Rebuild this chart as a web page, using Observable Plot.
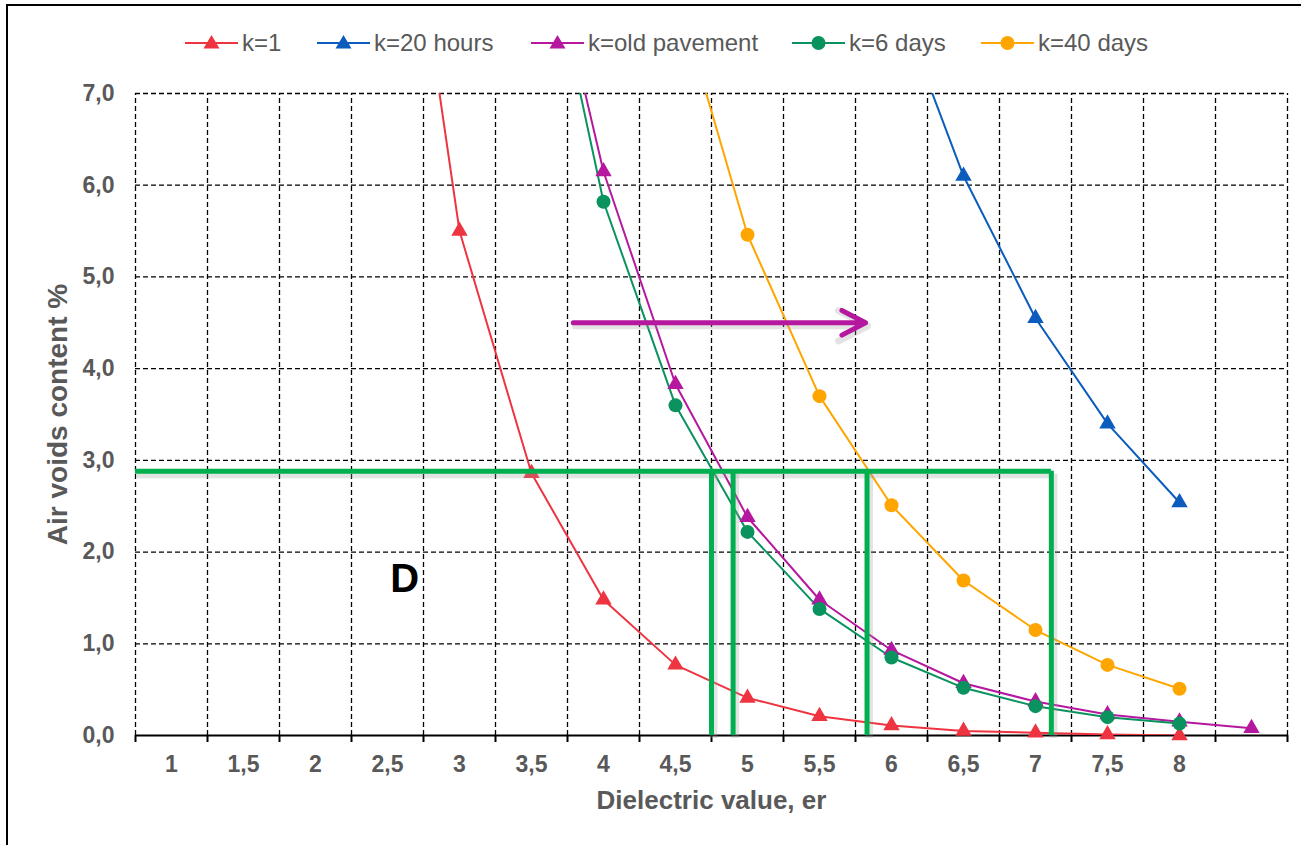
<!DOCTYPE html>
<html>
<head>
<meta charset="utf-8">
<script src="https://cdn.jsdelivr.net/npm/d3@7"></script>
<script src="https://cdn.jsdelivr.net/npm/@observablehq/plot@0.6"></script>
<style>
  html, body { margin: 0; padding: 0; background: #fff; overflow: hidden; }
  body { font-family: "Liberation Sans", Arial, sans-serif; width: 1301px; height: 845px; position: relative; }
  #frame { position: absolute; left: 6px; top: 4px; width: 1400px; height: 1000px; border: 2px solid #000; pointer-events: none; }
  #legend { position: relative; height: 75px; }
  .item { position: absolute; top: 30px; height: 26px; display: flex; align-items: center; font-size: 24px; color: #595959; white-space: nowrap; }
  .item svg { margin-right: 4px; }
  #chart svg { display: block; }
</style>
</head>
<body>
<div id="frame"></div>
<div id="legend"></div>
<div id="chart"></div>
<script>
// ---- Data ----
const erValues = [1, 1.5, 2, 2.5, 3, 3.5, 4, 4.5, 5, 5.5, 6, 6.5, 7, 7.5, 8, 8.5];
const xTickLabels = ["1", "1,5", "2", "2,5", "3", "3,5", "4", "4,5", "5", "5,5", "6", "6,5", "7", "7,5", "8", ""];
const yTicks = [0, 1, 2, 3, 4, 5, 6, 7];
const yTickLabels = ["0,0", "1,0", "2,0", "3,0", "4,0", "5,0", "6,0", "7,0"];

const seriesNames = ["k=1", "k=20 hours", "k=old pavement", "k=6 days", "k=40 days"];
const k1          = [null, null, null, 10.9, 5.50, 2.86, 1.48, 0.77, 0.41, 0.21, 0.11, 0.05, 0.03, 0.01, 0.00, null];
const k20hours    = [null, null, null, null, null, null, null, null, null, null, 8.18, 6.10, 4.55, 3.40, 2.54, null];
const kOldPav     = [null, null, null, null, null, 9.50, 6.15, 3.83, 2.38, 1.48, 0.93, 0.57, 0.37, 0.23, 0.15, 0.08];
const k6days      = [null, null, null, null, null, 9.48, 5.82, 3.60, 2.22, 1.38, 0.85, 0.52, 0.32, 0.20, 0.13, null];
const k40days     = [null, null, null, null, null, null, null, 8.15, 5.46, 3.70, 2.51, 1.69, 1.15, 0.77, 0.51, null];
const seriesValues = [k1, k20hours, kOldPav, k6days, k40days];
const seriesColors = ["#ee3441", "#0b5cbd", "#b5189f", "#0a925f", "#ffa500"];
const seriesSymbols = ["triangle", "triangle", "triangle", "circle", "circle"];

// annotations (values in chart units)
const guideLevel = [2.88];
const guideStart = [0.75];
const guideEnd = [7.11];
const guideVerticals = [4.75, 4.90, 5.83, 7.11];
const arrowFrom = [3.79];
const arrowTo = [5.82];
const arrowLevel = [4.50];
const noteText = ["D"];
const noteX = [2.62];
const noteY = [1.70];

// ---- Derived ----
const boundaries = d3.range(0, erValues.length + 1).map(i => erValues[0] - 0.25 + 0.5 * i);
const rows = [];
seriesNames.forEach((name, s) => {
  erValues.forEach((er, i) => rows.push({series: name, er, value: seriesValues[s][i]}));
});

// ---- Legend ----
const legend = document.getElementById("legend");
const legendLeft = [185, 317, 531, 792, 981];
seriesNames.forEach((name, s) => {
  const div = document.createElement("div");
  div.className = "item";
  div.style.left = legendLeft[s] + "px";
  const c = seriesColors[s];
  const marker = seriesSymbols[s] === "circle"
    ? `<circle cx="26.5" cy="13" r="7" fill="${c}"/>`
    : `<path d="M26.5,5 L34.5,18.5 L18.5,18.5 Z" fill="${c}"/>`;
  div.innerHTML = `<svg width="53" height="26"><line x1="0" x2="53" y1="13" y2="13" stroke="${c}" stroke-width="2"/>${marker}</svg><span>${name}</span>`;
  legend.appendChild(div);
});

// ---- Chart ----
const gray = "#595959";
const marks = [
  Plot.ruleY(yTicks.filter(d => d > 0), {stroke: "#000", strokeWidth: 1.3, strokeDasharray: "5,3"}),
  Plot.ruleX(boundaries, {y1: 0, y2: 7, stroke: "#000", strokeWidth: 1.3, strokeDasharray: "5,3"}),
  Plot.ruleX(boundaries, {y1: 0, y2: 0, insetBottom: -7, stroke: "#000", strokeWidth: 2}),
  Plot.ruleY([0], {stroke: "#000", strokeWidth: 2}),
];

seriesNames.forEach((name, s) => {
  const data = rows.filter(r => r.series === name);
  marks.push(Plot.line(data, {x: "er", y: "value", stroke: seriesColors[s], strokeWidth: 2, clip: true}));
});
seriesNames.forEach((name, s) => {
  const data = rows.filter(r => r.series === name && r.value != null && r.value <= 7);
  marks.push(Plot.dot(data, {
    x: "er", y: "value", fill: seriesColors[s], stroke: "none",
    symbol: seriesSymbols[s], r: seriesSymbols[s] === "circle" ? 7 : 6.1
  }));
});

// annotation shadows
const shadow = {stroke: "#9a9a9a", strokeOpacity: 0.28, strokeWidth: 8, dx: 2, dy: 3};
marks.push(
  Plot.ruleY(guideLevel, {x1: guideStart[0], x2: guideEnd[0], ...shadow}),
  Plot.ruleX(guideVerticals, {y1: 0, y2: guideLevel[0], ...shadow}),
  Plot.arrow(arrowLevel, {x1: () => arrowFrom[0], x2: () => arrowTo[0], y1: d => d, y2: d => d,
    stroke: "#9a9a9a", strokeOpacity: 0.28, strokeWidth: 7, dx: 2, dy: 3, headLength: 7, headAngle: 55})
);
// annotation lines
marks.push(
  Plot.ruleY(guideLevel, {x1: guideStart[0], x2: guideEnd[0], stroke: "#00b050", strokeWidth: 5}),
  Plot.ruleX(guideVerticals, {y1: 0, y2: guideLevel[0], stroke: "#00b050", strokeWidth: 5}),
  Plot.arrow(arrowLevel, {x1: () => arrowFrom[0], x2: () => arrowTo[0], y1: d => d, y2: d => d,
    stroke: "#b5189f", strokeWidth: 5, headLength: 8, headAngle: 55}),
  Plot.text(noteText, {x: (d, i) => noteX[i], y: (d, i) => noteY[i], text: d => d,
    fontSize: 40, fontWeight: "bold", fill: "#000"})
);

// tick labels and titles
marks.push(
  Plot.text(erValues, {x: d => d, text: (d, i) => xTickLabels[i], frameAnchor: "bottom", lineAnchor: "middle", dy: 29,
    fontSize: 23, fontWeight: "bold", fill: gray}),
  Plot.text(yTicks, {y: d => d, text: (d, i) => yTickLabels[i], frameAnchor: "left", textAnchor: "end", dx: -21,
    fontSize: 23, fontWeight: "bold", fill: gray}),
  Plot.text(["Dielectric value, er"], {frameAnchor: "bottom", lineAnchor: "middle", dy: 65, text: d => d,
    fontSize: 26, fontWeight: "bold", fill: gray}),
  Plot.text(["Air voids content %"], {frameAnchor: "left", textAnchor: "middle", dx: -77, rotate: -90, text: d => d,
    fontSize: 28, fontWeight: "bold", fill: gray})
);

const chart = Plot.plot({
  width: 1301,
  height: 770,
  marginLeft: 135,
  marginRight: 14,
  marginTop: 18,
  marginBottom: 110,
  x: {domain: [boundaries[0], boundaries[boundaries.length - 1]], axis: null},
  y: {domain: [0, 7], axis: null},
  style: {fontFamily: "'Liberation Sans', Arial, sans-serif", background: "transparent", overflow: "visible"},
  marks
});
document.getElementById("chart").appendChild(chart);
</script>
</body>
</html>
